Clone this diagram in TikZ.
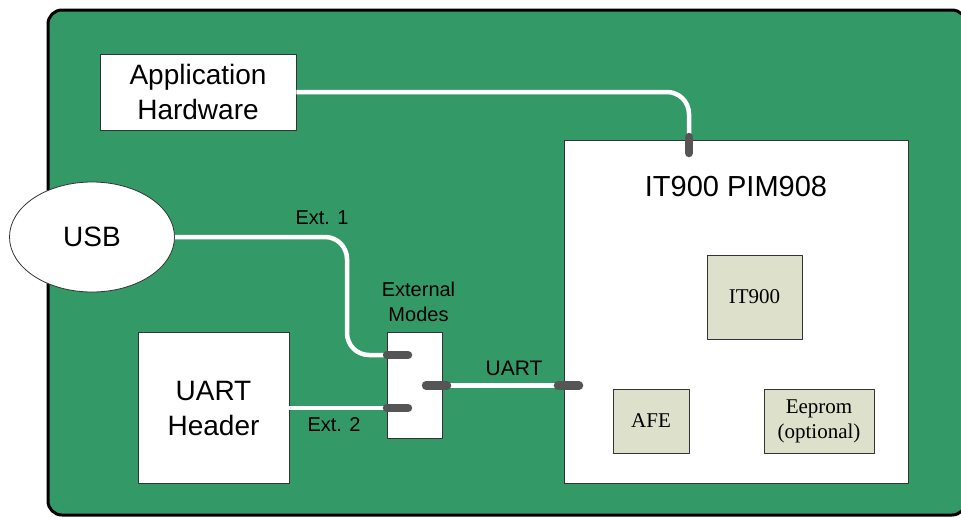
\documentclass[tikz,border=0pt]{standalone}
\usepackage{fontspec}
\setmainfont{Liberation Sans}
\newfontfamily\chipfont{Liberation Serif}
\usetikzlibrary{positioning,shapes.geometric}
\definecolor{boardgreen}{RGB}{51,153,102}
\definecolor{chipfill}{RGB}{221,224,203}
\definecolor{padgray}{RGB}{85,85,85}
\begin{document}
\begin{tikzpicture}[x=1pt, y=-1pt, line join=round,
	box/.style={draw=black!80, line width=0.8pt, fill=white, inner sep=0pt, align=center},
	chip/.style={draw=black!80, line width=0.8pt, fill=chipfill, inner sep=0pt, align=center, font=\chipfont\fontsize{21}{25}\selectfont},
	big/.style={font=\fontsize{28}{35}\selectfont},
	small/.style={font=\fontsize{20}{25}\selectfont},
	wire/.style={white, line width=4.5pt, rounded corners=22pt},
	pin/.style={padgray, line width=8.5pt, line cap=round}]
	\useasboundingbox (0,0) rectangle (961,517);
	\clip (0,0) rectangle (961,517);
	\draw[line width=3pt, fill=boardgreen, rounded corners=14pt] (48,10) rectangle (966,515);
	% blocks
	\node[box, big, minimum width=196pt, minimum height=76pt] (apphw) at (198,92) {Application\\Hardware};
	\node[draw=black!80, line width=0.8pt, fill=white, ellipse, minimum width=165pt, minimum height=110pt, big] (usb) at (92,237) {USB};
	\node[box, big, minimum width=151pt, minimum height=151pt] (uarthdr) at (213.5,408) {UART\\Header};
	\node[box, minimum width=55pt, minimum height=106pt] (emode) at (414.5,385) {};
	\node[small, align=center, inner sep=0pt, above=10pt of emode, xshift=4pt] (emodelbl) {External\\Modes};
	\node[box, minimum width=344pt, minimum height=343pt] (pim) at (736,311.5) {};
	\node[font=\fontsize{29}{35}\selectfont] (pimlbl) at (736,187) {IT900 PIM908};
	\node[chip, minimum width=95pt, minimum height=84pt] (it900) at (754.5,297) {IT900};
	\node[chip, minimum width=76pt, minimum height=64pt] (afe) at (651,421) {AFE};
	\node[chip, minimum width=110pt, minimum height=64pt] (eeprom) at (819,421) {Eeprom\\(optional)};
	% pads
	\coordinate (padA) at (689,145);
	\coordinate (padE1) at (397.5,355);
	\coordinate (padE2) at (397.5,408);
	\coordinate (padO) at (436.5,385.5);
	\coordinate (padU) at (568.5,385.5);
	\coordinate (bend) at (347,0);
	% wires
	\draw[wire] (apphw.east) -- (apphw.east -| padA) -- (padA);
	\draw[wire] (usb.east) -- (usb.east -| bend) -- (bend |- padE1) -- (padE1);
	\draw[wire] (uarthdr.east) -- (padE2);
	\draw[wire] (padO) -- (padU);
	\draw[pin] (padA) ++(0,-8) -- ++(0,16);
	\foreach \p in {padE1,padE2,padO,padU} \draw[pin] (\p) ++(-10.5,0) -- ++(21,0);
	% labels
	\node[small] (ext1) at (322,218) {Ext. 1};
	\node[small] (ext2) at (334,425) {Ext. 2};
	\node[font=\fontsize{21}{25}\selectfont] (uartlbl) at (514,368) {UART};
\end{tikzpicture}
\end{document}
